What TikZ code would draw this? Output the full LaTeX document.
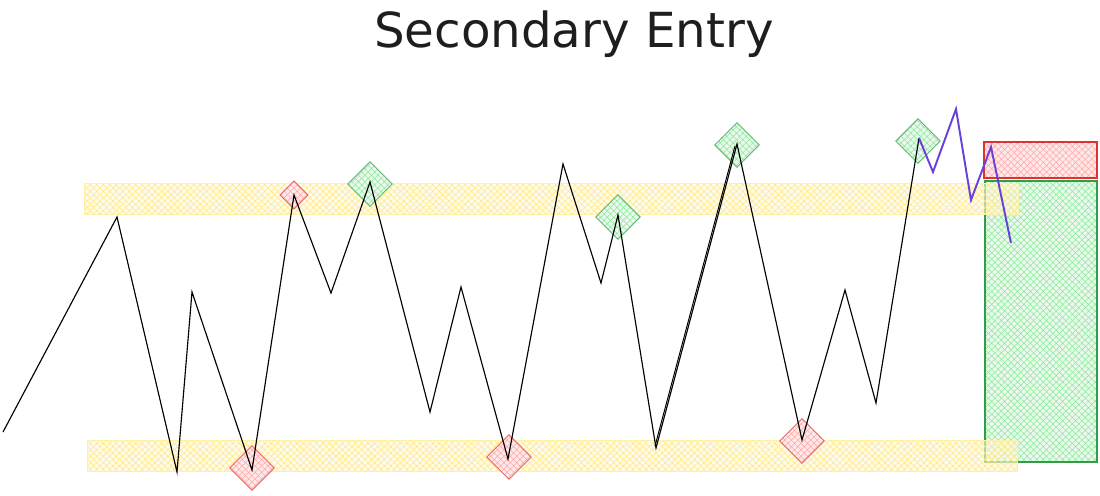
\documentclass[tikz,border=0pt]{standalone}
\usepackage{fontspec}
\newfontfamily\titlefont{DejaVu Sans}
\usetikzlibrary{shapes.geometric,patterns.meta}
\definecolor{bandline}{HTML}{FFF0A8}
\definecolor{bandfill}{HTML}{FFF9DB}
\definecolor{bandhatch}{HTML}{FFE680}
\definecolor{sellline}{HTML}{E03131}
\definecolor{sellfill}{HTML}{FFE8E8}
\definecolor{sellhatch}{HTML}{FFA8A8}
\definecolor{buyline}{HTML}{2F9E44}
\definecolor{buyfill}{HTML}{E9F9EC}
\definecolor{buyhatch}{HTML}{8CE99A}
\definecolor{retest}{HTML}{6741D9}
\tikzset{
  hatched/.style={pattern={Hatch[angle=45,distance=2.6pt,line width=0.3pt]}},
  band/.style={draw=bandline, preaction={fill=bandfill, fill opacity=0.6}, hatched, pattern color=bandhatch},
  zone/.style={draw=#1line, line width=0.6pt, preaction={fill=#1fill}, hatched, pattern color=#1hatch},
  sell/.style={diamond, draw=sellline!75, line width=0.5pt, preaction={fill=sellfill}, hatched, pattern color=sellhatch, inner sep=0pt, minimum size=0.9cm},
  buy/.style={diamond, draw=buyline!75, line width=0.5pt, preaction={fill=buyfill}, hatched, pattern color=buyhatch, inner sep=0pt, minimum size=0.9cm},
}
\begin{document}
\begin{tikzpicture}[x=0.02cm, y=-0.02cm]
        \useasboundingbox (0,0) rectangle (1100,495);
        \node (title) at (574,34) {\titlefont\fontsize{27.5}{32}\selectfont\color[HTML]{1E1E1E}Secondary Entry};
        % zones
        \path[zone=buy] (985,181) rectangle (1097,462);
        \path[zone=sell] (984,142) rectangle (1097,178);
        \path[band] (84,183) rectangle (1018,214);
        \path[band] (87,440) rectangle (1017,471);
        % touches
        \node[sell, minimum size=0.57cm] (s1) at (294,195) {};
        \node[sell] (s2) at (252,468) {};
        \node[sell] (s3) at (509,457) {};
        \node[sell] (s4) at (802,441) {};
        \node[buy] (b1) at (370,184) {};
        \node[buy] (b2) at (618,217) {};
        \node[buy] (b3) at (737,145) {};
        \node[buy] (b4) at (918,141) {};
        % price
        \coordinate (start) at (3,432);
        \coordinate (end) at (1011,243);
        \draw[line width=0.65pt, line join=miter] (start)--(117,217)--(177,472)--(192,292)--(252,470)--(294,195)--(331,293)--(370,182)--(430,412)--(461,287)--(508,459)--(563,164)--(601,283)--(618,215)--(656,448)--(737,144)--(802,440)--(845,290)--(876,403)--(919,138);
        \draw[line width=0.55pt] (655,446)--(735,146);
        \draw[retest, line width=1.1pt, line join=miter] (919,138)--(933,172)--(956,109)--(971,200)--(991,147)--(end);
    \end{tikzpicture}
\end{document}
